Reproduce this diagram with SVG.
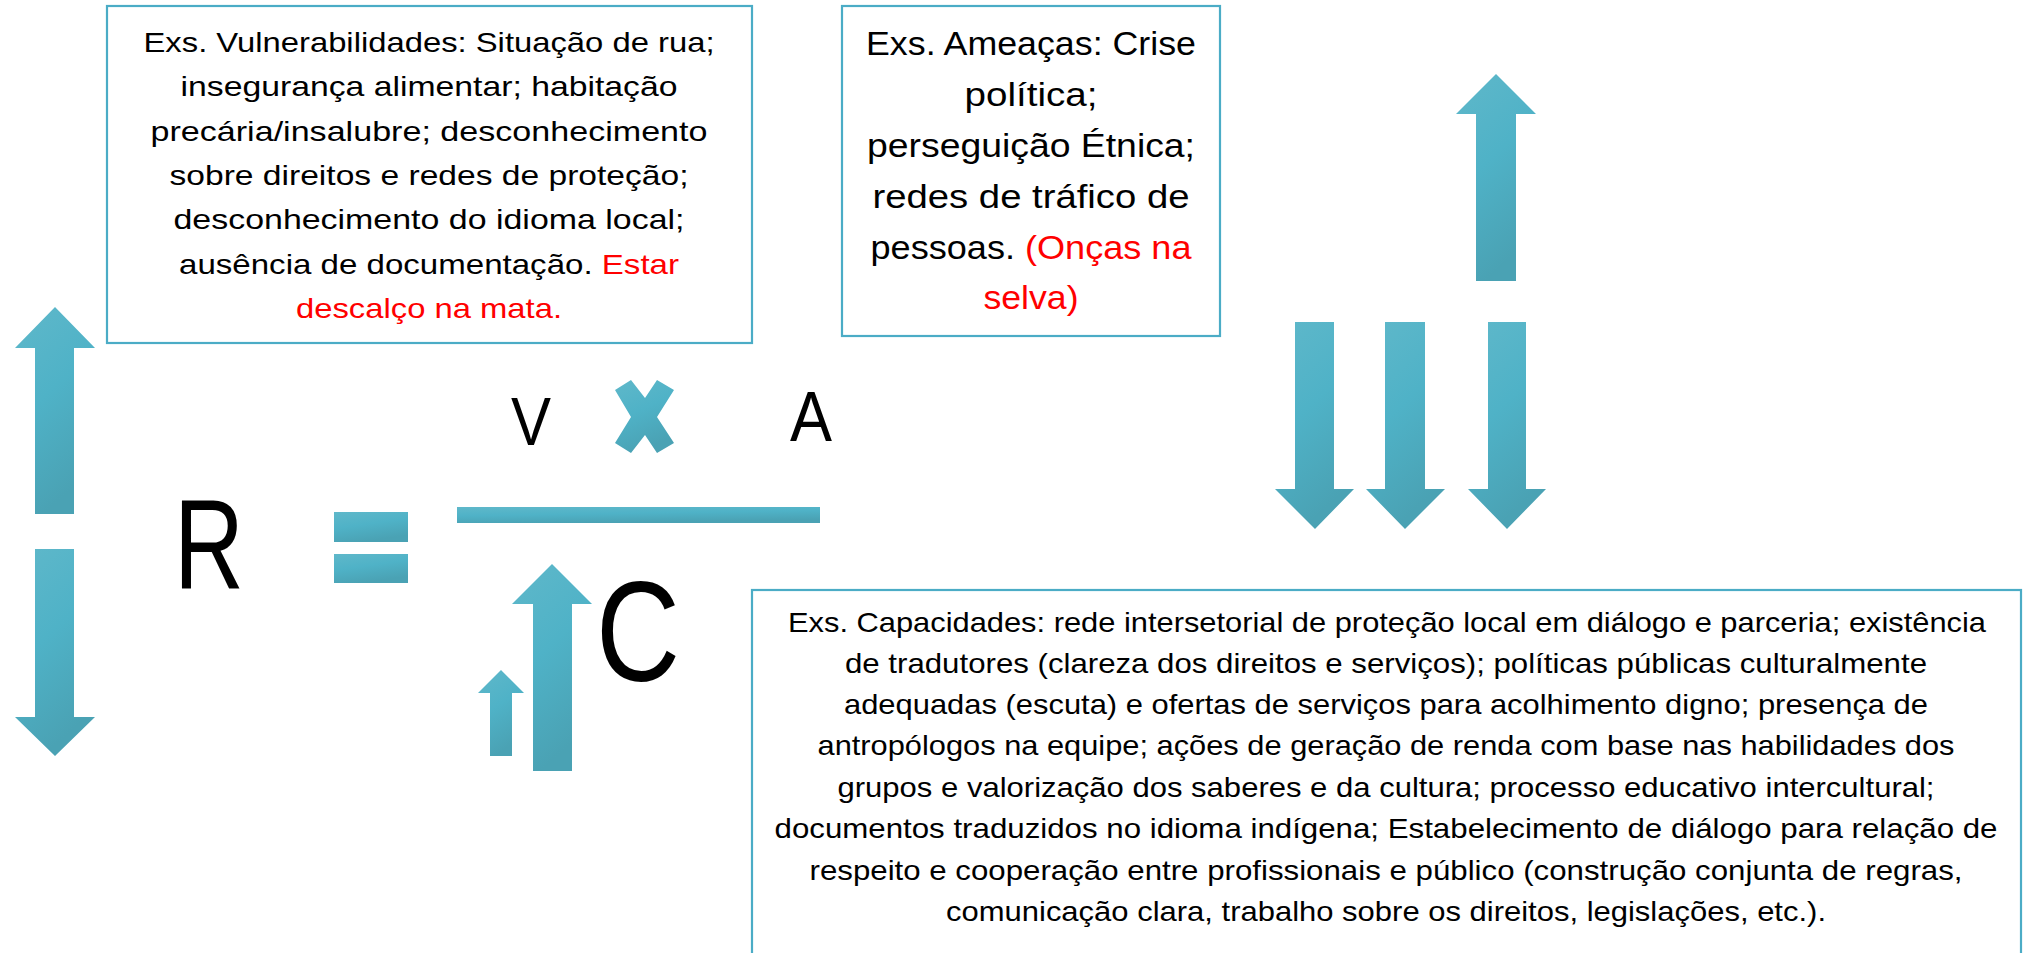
<svg xmlns="http://www.w3.org/2000/svg" width="2029" height="953" viewBox="0 0 2029 953">
<style>
.box{fill:#FFFFFF;stroke:#4BACC6;stroke-width:2.2}
.t{font-family:"Liberation Sans",Arial,sans-serif;fill:#000000;text-anchor:middle}
.s{font-size:28px}
.m{font-size:34px}
.red{fill:#FF0000}
.sym{font-family:"Liberation Sans",Arial,sans-serif;fill:#000000}
.sh{fill:url(#g)}
</style>
<defs>
<linearGradient id="g" x1="0" y1="0" x2="0.35" y2="1">
<stop offset="0" stop-color="#5FB8CA"/>
<stop offset="0.5" stop-color="#4FB2C7"/>
<stop offset="1" stop-color="#4AA2B4"/>
</linearGradient>
</defs>
<rect width="2029" height="953" fill="#FFFFFF"/>

<g id="vulnerabilidades">
<rect class="box" x="107" y="6" width="645" height="337"/>
<text class="t s" x="429" y="52" textLength="571" lengthAdjust="spacingAndGlyphs">Exs. Vulnerabilidades: Situação de rua;</text>
<text class="t s" x="429" y="96" textLength="497" lengthAdjust="spacingAndGlyphs">insegurança alimentar; habitação</text>
<text class="t s" x="429" y="141" textLength="557" lengthAdjust="spacingAndGlyphs">precária/insalubre; desconhecimento</text>
<text class="t s" x="429" y="185" textLength="519" lengthAdjust="spacingAndGlyphs">sobre direitos e redes de proteção;</text>
<text class="t s" x="429" y="229" textLength="511" lengthAdjust="spacingAndGlyphs">desconhecimento do idioma local;</text>
<text class="t s" x="429" y="274" textLength="500" lengthAdjust="spacingAndGlyphs">ausência de documentação. <tspan class="red">Estar</tspan></text>
<text class="t s red" x="429" y="318" textLength="266" lengthAdjust="spacingAndGlyphs">descalço na mata.</text>
</g>

<g id="ameacas">
<rect class="box" x="842" y="6" width="378" height="330"/>
<text class="t m" x="1031" y="55" textLength="330" lengthAdjust="spacingAndGlyphs">Exs. Ameaças: Crise</text>
<text class="t m" x="1031" y="106" textLength="133" lengthAdjust="spacingAndGlyphs">política;</text>
<text class="t m" x="1031" y="157" textLength="328" lengthAdjust="spacingAndGlyphs">perseguição Étnica;</text>
<text class="t m" x="1031" y="208" textLength="317" lengthAdjust="spacingAndGlyphs">redes de tráfico de</text>
<text class="t m" x="1031" y="259" textLength="321" lengthAdjust="spacingAndGlyphs">pessoas. <tspan class="red">(Onças na</tspan></text>
<text class="t m red" x="1031" y="309" textLength="95" lengthAdjust="spacingAndGlyphs">selva)</text>
</g>

<g id="capacidades">
<rect class="box" x="752" y="590" width="1269" height="380"/>
<text class="t s" x="1387" y="632" textLength="1198" lengthAdjust="spacingAndGlyphs">Exs. Capacidades: rede intersetorial de proteção local em diálogo e parceria; existência</text>
<text class="t s" x="1386" y="673" textLength="1082" lengthAdjust="spacingAndGlyphs">de tradutores (clareza dos direitos e serviços); políticas públicas culturalmente</text>
<text class="t s" x="1386" y="714" textLength="1084" lengthAdjust="spacingAndGlyphs">adequadas (escuta) e ofertas de serviços para acolhimento digno; presença de</text>
<text class="t s" x="1386" y="755" textLength="1137" lengthAdjust="spacingAndGlyphs">antropólogos na equipe; ações de geração de renda com base nas habilidades dos</text>
<text class="t s" x="1386" y="797" textLength="1097" lengthAdjust="spacingAndGlyphs">grupos e valorização dos saberes e da cultura; processo educativo intercultural;</text>
<text class="t s" x="1386" y="838" textLength="1223" lengthAdjust="spacingAndGlyphs">documentos traduzidos no idioma indígena; Estabelecimento de diálogo para relação de</text>
<text class="t s" x="1386" y="880" textLength="1153" lengthAdjust="spacingAndGlyphs">respeito e cooperação entre profissionais e público (construção conjunta de regras,</text>
<text class="t s" x="1386" y="921" textLength="880" lengthAdjust="spacingAndGlyphs">comunicação clara, trabalho sobre os direitos, legislações, etc.).</text>
</g>

<g id="formula">
<text id="R" class="sym" x="174" y="589" font-size="128" textLength="70" lengthAdjust="spacingAndGlyphs">R</text>
<g id="igual">
<rect class="sh" x="334" y="512" width="74" height="30"/>
<rect class="sh" x="334" y="554" width="74" height="29"/>
</g>
<rect id="fracao" class="sh" x="457" y="507" width="363" height="16"/>
<text id="V" class="sym" x="511" y="445" font-size="68" textLength="40" lengthAdjust="spacingAndGlyphs">V</text>
<polygon id="vezes" class="sh" points="615,390 631,380 645,398 657,380 674,390 657,417 674,443 657,453 645,435 631,453 615,443 631,417"/>
<text id="A" class="sym" x="790" y="441" font-size="71" textLength="42" lengthAdjust="spacingAndGlyphs">A</text>
<text id="C" class="sym" x="596" y="681" font-size="142" textLength="84" lengthAdjust="spacingAndGlyphs">C</text>
</g>

<g id="setas">
<path id="seta-esq-cima" class="sh" d="M55,307 L95,348 L74,348 L74,514 L35,514 L35,348 L15,348 Z"/>
<path id="seta-esq-baixo" class="sh" d="M35,549 L74,549 L74,717 L95,717 L55,756 L15,717 L35,717 Z"/>
<path id="seta-c-grande" class="sh" d="M552,564 L592,604 L572,604 L572,771 L533,771 L533,604 L512,604 Z"/>
<path id="seta-c-pequena" class="sh" d="M501,670 L524,693 L512,693 L512,756 L490,756 L490,693 L478,693 Z"/>
<path id="seta-dir-cima" class="sh" d="M1496,74 L1536,114 L1516,114 L1516,281 L1476,281 L1476,114 L1456,114 Z"/>
<path id="seta-baixo-1" class="sh" d="M1295,322 L1334,322 L1334,489 L1354,489 L1315,529 L1275,489 L1295,489 Z"/>
<path id="seta-baixo-2" class="sh" d="M1385,322 L1425,322 L1425,489 L1445,489 L1405,529 L1366,489 L1385,489 Z"/>
<path id="seta-baixo-3" class="sh" d="M1488,322 L1526,322 L1526,489 L1546,489 L1507,529 L1468,489 L1488,489 Z"/>
</g>
</svg>
